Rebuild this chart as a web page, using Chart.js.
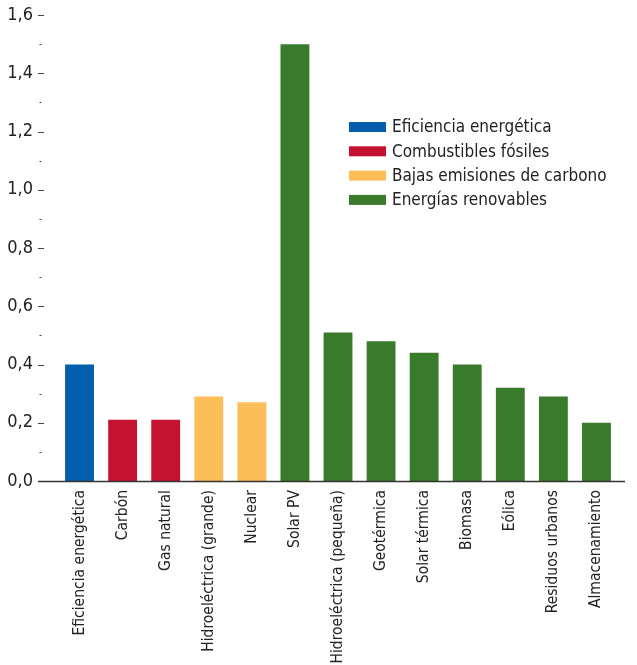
<!DOCTYPE html>
<html>
<head>
<meta charset="utf-8">
<script src="https://cdn.jsdelivr.net/npm/chart.js@4.4.1/dist/chart.umd.min.js"></script>
<style>
  html, body { margin: 0; padding: 0; background: #fff; }
  #wrap { width: 637px; height: 665px; }
</style>
</head>
<body>
<div id="wrap"><canvas id="chart"></canvas></div>
<script>
var categorias = ['Eficiencia energética', 'Carbón', 'Gas natural', 'Hidroeléctrica (grande)', 'Nuclear',
  'Solar PV', 'Hidroeléctrica (pequeña)', 'Geotérmica', 'Solar térmica', 'Biomasa', 'Eólica',
  'Residuos urbanos', 'Almacenamiento'];
var valores = [0.40, 0.21, 0.21, 0.29, 0.27, 1.50, 0.51, 0.48, 0.44, 0.40, 0.32, 0.29, 0.20];
var grupoDe = [0, 1, 1, 2, 2, 3, 3, 3, 3, 3, 3, 3, 3];
var grupos = ['Eficiencia energética', 'Combustibles fósiles', 'Bajas emisiones de carbono', 'Energías renovables'];
var colores = ['#005EAD', '#C41230', '#FDBE5A', '#3A7A2B'];
var yTicks = [0, 0.2, 0.4, 0.6, 0.8, 1.0, 1.2, 1.4, 1.6];

var FONT = '"DejaVu Sans Condensed", "Liberation Sans", sans-serif';

// ejes, marcas menores y leyenda
var extras = {
  id: 'extras',
  afterDraw: function (chart) {
    var ctx = chart.ctx;
    var y = chart.scales.y;
    var area = chart.chartArea;
    ctx.save();
    ctx.strokeStyle = '#444';
    ctx.lineWidth = 1;
    for (var v = 0; v <= 16; v++) {
      var py = Math.round(y.getPixelForValue(v / 10)) + 0.5;
      ctx.beginPath();
      if (v % 2 == 0) {
        ctx.moveTo(38, py); ctx.lineTo(44, py);
      } else {
        ctx.moveTo(39.5, py); ctx.lineTo(41.5, py);
      }
      ctx.stroke();
    }
    var p0 = Math.round(y.getPixelForValue(0)) + 0.5;
    ctx.strokeStyle = '#333';
    ctx.lineWidth = 1.5;
    ctx.beginPath();
    ctx.moveTo(38, p0); ctx.lineTo(area.right + 7, p0);
    ctx.stroke();

    ctx.font = '17px ' + FONT;
    ctx.textBaseline = 'middle';
    for (var i = 0; i < grupos.length; i++) {
      var ly = 127 + i * 24.3;
      ctx.fillStyle = colores[i];
      ctx.fillRect(349, ly - 5, 37, 10);
      ctx.fillStyle = '#222';
      ctx.fillText(grupos[i], 392, ly + 1);
    }
    ctx.restore();
  }
};

new Chart(document.getElementById('chart'), {
  type: 'bar',
  data: {
    labels: categorias,
    datasets: [{
      label: 'Valor',
      data: valores,
      backgroundColor: grupoDe.map(g => colores[g]),
      categoryPercentage: 1,
      barPercentage: 0.67
    }]
  },
  options: {
    responsive: true,
    maintainAspectRatio: false,
    animation: false,
    layout: { padding: { top: 15, right: 19, left: 0, bottom: 0 } },
    plugins: {
      legend: { display: false },
      tooltip: { enabled: false }
    },
    scales: {
      x: {
        grid: { display: false, drawTicks: false },
        border: { display: false },
        afterFit: function (s) { s.height = 184; s.paddingLeft = 0; s.paddingRight = 0; },
        ticks: {
          minRotation: 90,
          maxRotation: 90,
          autoSkip: false,
          padding: 9,
          color: '#222',
          font: { family: FONT, size: 15.5 }
        }
      },
      y: {
        min: 0,
        max: 1.6,
        afterFit: function (s) { s.width = 58; s.paddingTop = 0; s.paddingBottom = 0; },
        afterBuildTicks: function (s) { s.ticks = yTicks.map(v => ({ value: v })); },
        grid: { display: false, drawTicks: false },
        border: { display: false },
        ticks: {
          padding: 25,
          color: '#222',
          font: { family: FONT, size: 18 },
          callback: function (v) { return v.toFixed(1).replace('.', ','); }
        }
      }
    }
  },
  plugins: [extras]
});
</script>
</body>
</html>
